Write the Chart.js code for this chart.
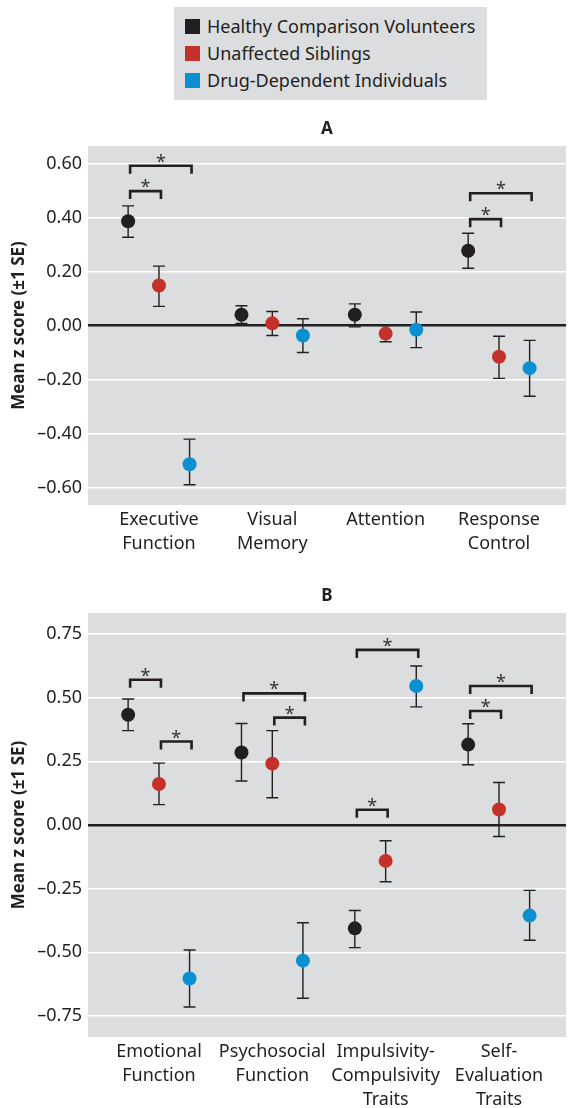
<!DOCTYPE html>
<html>
<head>
<meta charset="utf-8">
<script src="https://cdn.jsdelivr.net/npm/chart.js@4.4.0/dist/chart.umd.min.js"></script>
<style>
  body { margin: 0; background: #fff; width: 573px; height: 1108px; position: relative; overflow: hidden; font-family: "Noto Sans", sans-serif; }
  #legend { position: absolute; left: 174px; top: 7px; width: 313px; height: 93px; background: #dcdddf; box-sizing: border-box; padding: 5.5px 0 0 11px; }
  .item { height: 27px; display: flex; align-items: center; font-size: 18px; color: #231f20; }
  .sw { width: 15px; height: 15px; margin-right: 7px; }
  #wrapA { position: absolute; left: 0; top: 110px; width: 573px; height: 467px; }
  #wrapB { position: absolute; left: 0; top: 577px; width: 573px; height: 531px; }
</style>
</head>
<body>
<div id="legend"></div>
<div id="wrapA"><canvas id="chartA"></canvas></div>
<div id="wrapB"><canvas id="chartB"></canvas></div>
<script>
// groups
const seriesNames = ["Healthy Comparison Volunteers", "Unaffected Siblings", "Drug-Dependent Individuals"];

// panel A - cognitive domains
const domainsA = [["Executive", "Function"], ["Visual", "Memory"], ["Attention"], ["Response", "Control"]];
const healthyA = [0.386, 0.040, 0.040, 0.277];
const healthyA_lo = [0.327, 0.008, -0.005, 0.212];
const healthyA_hi = [0.443, 0.073, 0.080, 0.342];
const siblingsA = [0.148, 0.008, -0.030, -0.116];
const siblingsA_lo = [0.071, -0.037, -0.060, -0.196];
const siblingsA_hi = [0.220, 0.052, 0.000, -0.040];
const drugA = [-0.514, -0.037, -0.016, -0.158];
const drugA_lo = [-0.590, -0.100, -0.082, -0.262];
const drugA_hi = [-0.421, 0.025, 0.050, -0.055];
const yTicksA = [-0.6, -0.4, -0.2, 0, 0.2, 0.4, 0.6];
// [domain, from group, to group, height]
const bracketsA = [[0, 0, 1, 0.498], [0, 0, 2, 0.592], [3, 0, 1, 0.394], [3, 0, 2, 0.49]];

// panel B - personality domains
const domainsB = [["Emotional", "Function"], ["Psychosocial", "Function"], ["Impulsivity-", "Compulsivity", "Traits"], ["Self-", "Evaluation", "Traits"]];
const healthyB = [0.433, 0.285, -0.406, 0.316];
const healthyB_lo = [0.371, 0.173, -0.482, 0.237];
const healthyB_hi = [0.495, 0.399, -0.336, 0.398];
const siblingsB = [0.161, 0.241, -0.141, 0.061];
const siblingsB_lo = [0.080, 0.107, -0.223, -0.045];
const siblingsB_hi = [0.243, 0.371, -0.062, 0.167];
const drugB = [-0.603, -0.533, 0.546, -0.356];
const drugB_lo = [-0.715, -0.681, 0.464, -0.453];
const drugB_hi = [-0.491, -0.384, 0.625, -0.257];
const yTicksB = [-0.75, -0.5, -0.25, 0, 0.25, 0.5, 0.75];
const bracketsB = [[0, 0, 1, 0.571], [0, 1, 2, 0.328], [1, 0, 2, 0.517], [1, 1, 2, 0.422],
                   [2, 0, 2, 0.688], [2, 0, 1, 0.06], [3, 0, 2, 0.546], [3, 0, 1, 0.448]];

const colors = ["#231f20", "#c4312b", "#0a8fd0"];
const groupShift = [-0.272, 0, 0.27];
const ink = "#231f20";
const font = '"Noto Sans", sans-serif';

// html legend
const legend = document.getElementById("legend");
seriesNames.forEach((name, i) => {
  legend.innerHTML += `<div class="item"><div class="sw" style="background:${colors[i]}"></div>${name}</div>`;
});

const fmt = v => (v < 0 ? "\u2013" : "") + Math.abs(v).toFixed(2);

const panelPlugin = {
  id: "panel",
  beforeDraw(chart) {
    const { ctx, chartArea: a } = chart;
    ctx.save();
    ctx.fillStyle = "#dcdddf";
    ctx.fillRect(a.left, a.top, a.right - a.left, a.bottom - a.top);
    ctx.restore();
  },
  beforeDatasetsDraw(chart) {
    const { ctx } = chart;
    const x = chart.scales.x, y = chart.scales.y;
    ctx.save();
    ctx.strokeStyle = ink;
    ctx.lineWidth = 1.4;
    chart.data.datasets.forEach(ds => {
      ds.data.forEach(p => {
        const px = x.getPixelForValue(p.x);
        const t = y.getPixelForValue(p.hi), b = y.getPixelForValue(p.lo);
        ctx.beginPath();
        ctx.moveTo(px, t); ctx.lineTo(px, b);
        ctx.moveTo(px - 6, t); ctx.lineTo(px + 6, t);
        ctx.moveTo(px - 6, b); ctx.lineTo(px + 6, b);
        ctx.stroke();
      });
    });
    ctx.restore();
  },
  afterDatasetsDraw(chart, args, opts) {
    const { ctx } = chart;
    const x = chart.scales.x, y = chart.scales.y;
    ctx.save();
    ctx.strokeStyle = ink;
    ctx.lineWidth = 2.6;
    ctx.fillStyle = "#333";
    ctx.font = "18px " + font;
    ctx.textAlign = "center";
    ctx.textBaseline = "alphabetic";
    opts.brackets.forEach(([d, g1, g2, v]) => {
      const x1 = x.getPixelForValue(d + 1 + groupShift[g1]) + 2;
      const x2 = x.getPixelForValue(d + 1 + groupShift[g2]) + 2;
      const py = y.getPixelForValue(v);
      ctx.beginPath();
      ctx.moveTo(x1, py + 8); ctx.lineTo(x1, py); ctx.lineTo(x2, py); ctx.lineTo(x2, py + 8);
      ctx.stroke();
      ctx.fillText("*", (x1 + x2) / 2, py + 2);
    });
    ctx.restore();
  }
};

function makeChart(id, title, domains, groups, yTicks, yMax, xHeight, brackets) {
  const datasets = groups.map((g, gi) => ({
    label: seriesNames[gi],
    data: g.mean.map((m, i) => ({ x: i + 1 + groupShift[gi], y: m, lo: g.lo[i], hi: g.hi[i] })),
    backgroundColor: colors[gi],
    borderWidth: 0,
    pointRadius: 7,
    pointHoverRadius: 7
  }));
  return new Chart(document.getElementById(id), {
    type: "scatter",
    data: { datasets },
    plugins: [panelPlugin],
    options: {
      responsive: true,
      maintainAspectRatio: false,
      animation: false,
      layout: { padding: 0 },
      plugins: {
        legend: { display: false },
        tooltip: { enabled: false },
        title: {
          display: true, text: title, fullSize: false, color: ink,
          font: { family: font, size: 17, weight: "bold", lineHeight: 1.2 },
          padding: { top: 9.4, bottom: 6.2 }
        },
        panel: { brackets }
      },
      scales: {
        x: {
          type: "linear", min: 0.374, max: 4.591,
          afterBuildTicks: s => { s.ticks = domains.map((d, i) => ({ value: i + 1 })); },
          afterFit: s => { s.height = xHeight; },
          grid: { display: false, drawTicks: false },
          border: { display: false },
          ticks: {
            padding: 3, color: ink, maxRotation: 0, autoSkip: false,
            font: { family: font, size: 18, lineHeight: 1.33 },
            callback: v => domains[v - 1]
          }
        },
        y: {
          min: -yMax, max: yMax,
          afterBuildTicks: s => { s.ticks = yTicks.map(v => ({ value: v })); },
          afterFit: s => { s.width = 88; },
          border: { display: false },
          grid: {
            drawTicks: false,
            color: c => (c.tick && c.tick.value === 0 ? ink : "#ffffff"),
            lineWidth: c => (c.tick && c.tick.value === 0 ? 2.5 : 1.5)
          },
          ticks: { padding: 6, color: ink, font: { family: font, size: 18 }, callback: v => fmt(v) },
          title: {
            display: true, text: "Mean z score (\u00b11 SE)", color: ink,
            font: { family: font, size: 17, weight: "bold" },
            padding: { top: 9, bottom: 0 }
          }
        }
      }
    }
  });
}

makeChart("chartA", "A", domainsA, [
  { mean: healthyA, lo: healthyA_lo, hi: healthyA_hi },
  { mean: siblingsA, lo: siblingsA_lo, hi: siblingsA_hi },
  { mean: drugA, lo: drugA_lo, hi: drugA_hi }
], yTicksA, 0.665, 72, bracketsA);

makeChart("chartB", "B", domainsB, [
  { mean: healthyB, lo: healthyB_lo, hi: healthyB_hi },
  { mean: siblingsB, lo: siblingsB_lo, hi: siblingsB_hi },
  { mean: drugB, lo: drugB_lo, hi: drugB_hi }
], yTicksB, 0.833, 71, bracketsB);
</script>
</body>
</html>
